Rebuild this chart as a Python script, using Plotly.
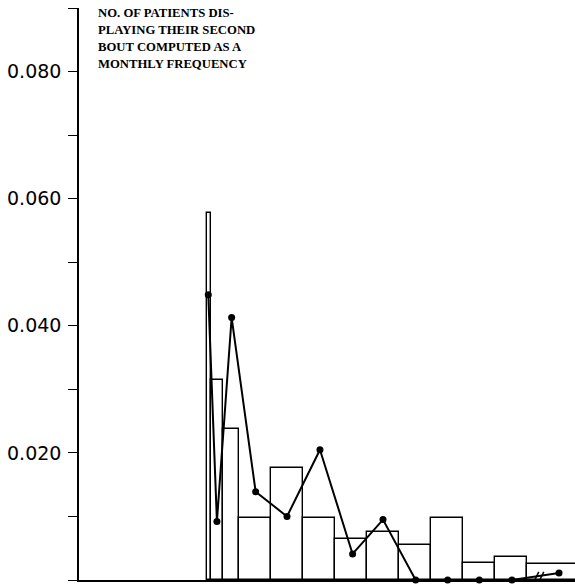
import plotly.graph_objects as go

# Histogram bins (months) and monthly frequency of second bouts
bin_edges = [4.0, 4.125, 4.5, 5.0, 6.0, 7.0, 8.0, 9.0, 10.0, 11.0, 12.0, 13.0, 14.0, 16.0]
bin_freq = [0.0578, 0.0315, 0.0237, 0.0097, 0.0177, 0.0097, 0.0064, 0.0076,
            0.0055, 0.0097, 0.0026, 0.0036, 0.0025]

# Connected series plotted at the bin midpoints
pt_x = [4.04, 4.31, 4.77, 5.52, 6.5, 7.53, 8.55, 9.5, 10.52, 11.52, 12.51, 13.53, 15.0]
pt_y = [0.0449, 0.0092, 0.0413, 0.0139, 0.0100, 0.0205, 0.0041, 0.0095,
        0.0, 0.0, 0.0, 0.0, 0.0011]

y_tickvals = [0.0, 0.01, 0.02, 0.03, 0.04, 0.05, 0.06, 0.07, 0.08, 0.09]
y_ticktext = ["0.000", "", "0.020", "", "0.040", "", "0.060", "", "0.080", ""]

title_lines = ["NO. OF PATIENTS DIS-", "PLAYING THEIR SECOND",
               "BOUT COMPUTED AS A", "MONTHLY FREQUENCY"]

centers = [(a + b) / 2 for a, b in zip(bin_edges[:-1], bin_edges[1:])]
widths = [b - a for a, b in zip(bin_edges[:-1], bin_edges[1:])]

fig = go.Figure()
fig.add_trace(go.Bar(
    x=centers, y=bin_freq, width=widths,
    marker=dict(color="white", line=dict(color="black", width=1.4)),
    hoverinfo="skip",
))
fig.add_trace(go.Scatter(
    x=pt_x, y=pt_y, mode="lines+markers",
    line=dict(color="black", width=2),
    marker=dict(color="black", size=7),
    cliponaxis=False,
))

# axis-break marks on the last segment
break_x = 14.4
break_y = pt_y[-2] + (pt_y[-1] - pt_y[-2]) * (break_x - pt_x[-2]) / (pt_x[-1] - pt_x[-2])
for dx in (-3, 2):
    fig.add_shape(type="line", xref="x", yref="y",
                  xsizemode="pixel", ysizemode="pixel",
                  xanchor=break_x, yanchor=break_y,
                  x0=dx - 2, x1=dx + 2, y0=-4, y1=4,
                  line=dict(color="black", width=1.5))

plot_top, plot_bottom = 8, 580
for i, line in enumerate(title_lines):
    py = 13.5 + i * 16.7
    fig.add_annotation(
        text="<b>" + line + "</b>", xref="paper", yref="paper",
        x=(96 - 79) / 496, y=(plot_bottom - py) / (plot_bottom - plot_top),
        xanchor="left", yanchor="middle", showarrow=False,
        font=dict(family="Liberation Serif", size=12.7, color="black"),
    )

fig.update_layout(
    width=575, height=587,
    margin=dict(l=79, r=0, t=8, b=7),
    paper_bgcolor="white", plot_bgcolor="white",
    showlegend=False, bargap=0,
    font=dict(family="DejaVu Sans", color="black"),
)
fig.update_xaxes(range=[0, 15.5], showline=True, linecolor="black", linewidth=2,
                 showgrid=False, zeroline=False, ticks="", showticklabels=False)
fig.update_yaxes(range=[0, 0.09], showline=True, linecolor="black", linewidth=1.5,
                 showgrid=False, zeroline=False, ticks="outside", ticklen=9,
                 tickwidth=1.3, tickcolor="black", tickvals=y_tickvals,
                 ticktext=y_ticktext, ticklabelstandoff=3,
                 tickfont=dict(family="DejaVu Sans", size=19))

fig.write_html("out.html")
